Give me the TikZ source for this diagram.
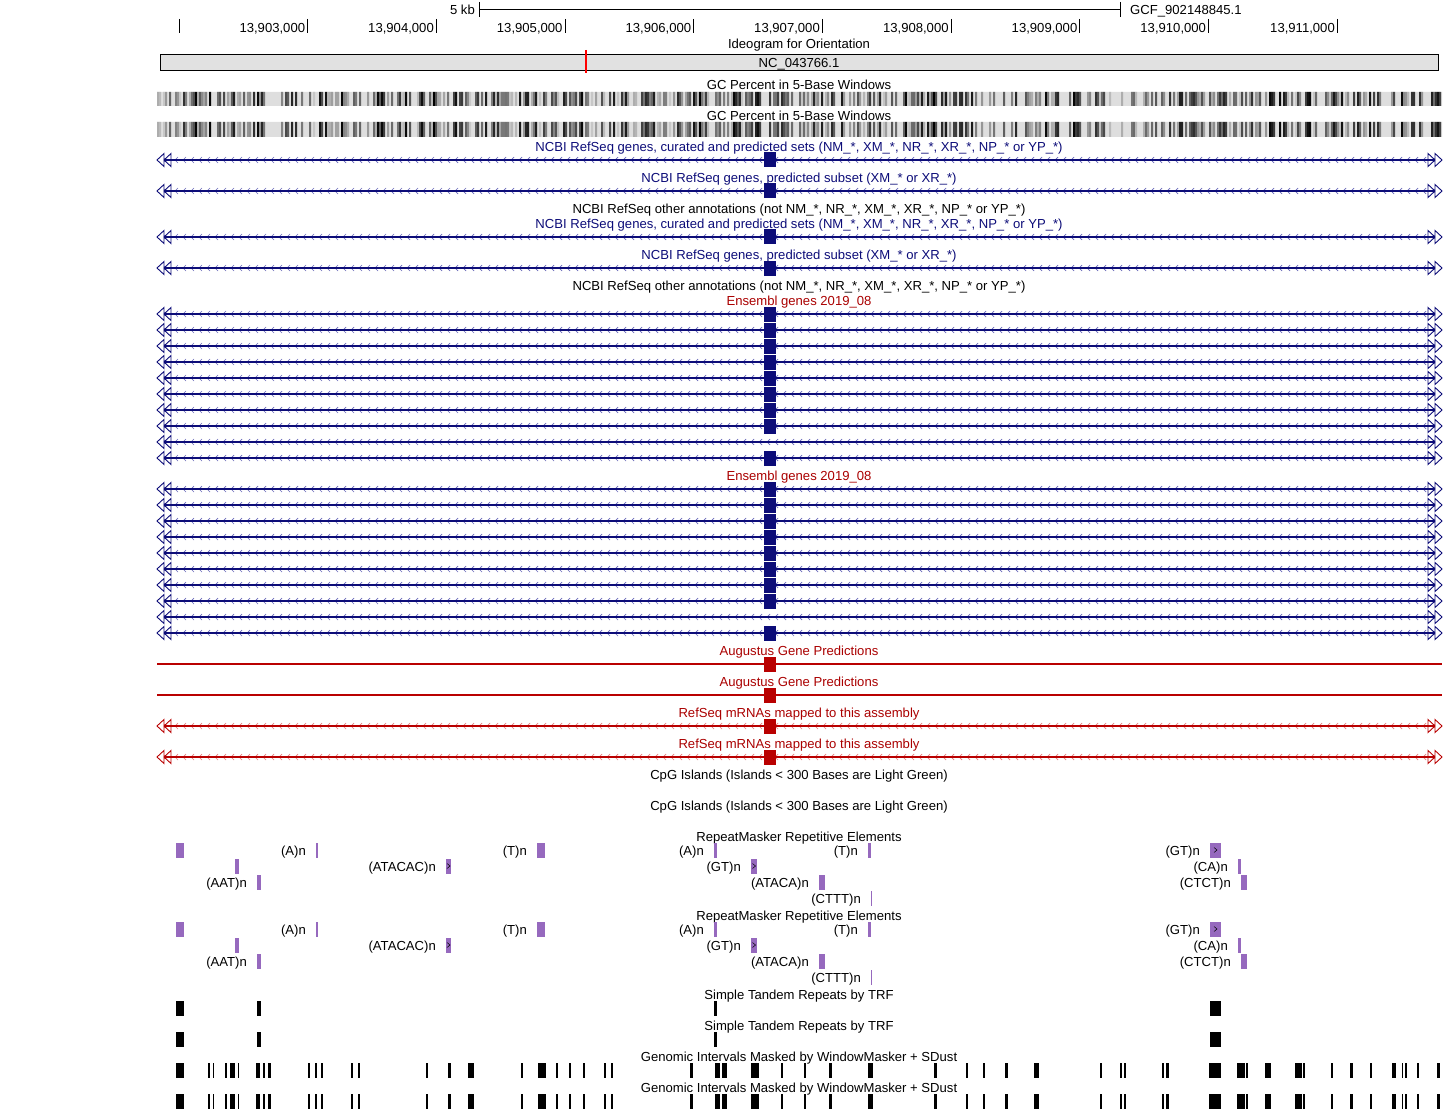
\documentclass[tikz,border=0pt]{standalone}
\usepackage{fontspec}
\setmainfont{Liberation Sans}
\definecolor{linenavy}{RGB}{12,12,120}
\definecolor{chevnavy}{RGB}{105,105,185}
\definecolor{linered}{RGB}{185,0,0}
\definecolor{chevred}{RGB}{228,125,125}
\definecolor{labelred}{RGB}{170,0,0}
\definecolor{rmskpurple}{RGB}{150,105,190}
\definecolor{ideogray}{RGB}{225,225,225}
\definecolor{gcback}{RGB}{222,222,222}
\tikzset{
  lbl/.style={font=\fontsize{13.1}{15}\selectfont, inner sep=0pt, anchor=base, yshift=-0.8pt},
  trackline/.style={line width=1.3pt},
  chevron/.style={line width=0.7pt},
  endtri/.style={line width=0.9pt},
  glyph/.style={line width=0.5pt, black},
}

\begin{document}
\begin{tikzpicture}[x=1pt,y=-1pt]
    \useasboundingbox (0,0) rectangle (1443,1110);

    % Scale bar and assembly name
    \draw (479,2) -- (479,17) (479,9) -- (1120,9) (1120,2) -- (1120,17);
    \node[lbl, anchor=base east] (scalelbl) at (475,14) {5 kb};
    \node[lbl, anchor=base west] (asm) at (1130,14) {GCF\_902148845.1};

    % Base position ruler
    \draw (179.3,19) -- (179.3,33);
    \foreach \tx/\txt [count=\k] in {307.3/{13,903,000}, 436/{13,904,000}, 564.7/{13,905,000},
        693.4/{13,906,000}, 822/{13,907,000}, 950.8/{13,908,000}, 1079.5/{13,909,000},
        1208.2/{13,910,000}, 1337/{13,911,000}}{
        \draw (\tx,19) -- (\tx,33);
        \node[lbl, anchor=base east] (ruler\k) at (\tx-2,32) {\txt};
    }

    % Ideogram
    \node[lbl] (ideottl) at (799,47.5) {Ideogram for Orientation};
    \draw[fill=ideogray, line width=0.8pt] (160,54) rectangle (1438,70);
    \draw[red, line width=2.6pt] (586,50) -- (586,73);
    \node[lbl] (chrom) at (799,66.5) {NC\_043766.1};

    % GC percent strips (same data twice)
    \node[lbl] (gc1) at (799,88.5) {GC Percent in 5-Base Windows};
    \node[lbl] (gc2) at (799,119.5) {GC Percent in 5-Base Windows};
    \fill[gcback] (157,92) rectangle (1442,106) (157,122) rectangle (1442,137);
    \pgfmathsetseed{1707}
    \foreach \i in {0,...,641}{
        \pgfmathrandominteger{\gcr}{0}{99}
        \ifnum\gcr>38
            \pgfmathtruncatemacro{\gcv}{22+(\gcr-39)*78/60}
            \fill[black!\gcv] (157+2*\i,92) rectangle ++(2,14) (157+2*\i,122) rectangle ++(2,15);
        \fi
    }

    % Track titles
    \foreach \ty/\tcol/\ttxt [count=\k] in {
        150.5/linenavy/{NCBI RefSeq genes, curated and predicted sets (NM\_*, XM\_*, NR\_*, XR\_*, NP\_* or YP\_*)},
        181.5/linenavy/{NCBI RefSeq genes, predicted subset (XM\_* or XR\_*)},
        212.5/black/{NCBI RefSeq other annotations (not NM\_*, NR\_*, XM\_*, XR\_*, NP\_* or YP\_*)},
        227.5/linenavy/{NCBI RefSeq genes, curated and predicted sets (NM\_*, XM\_*, NR\_*, XR\_*, NP\_* or YP\_*)},
        258.5/linenavy/{NCBI RefSeq genes, predicted subset (XM\_* or XR\_*)},
        289.5/black/{NCBI RefSeq other annotations (not NM\_*, NR\_*, XM\_*, XR\_*, NP\_* or YP\_*)},
        304.5/labelred/{Ensembl genes 2019\_08},
        479.5/labelred/{Ensembl genes 2019\_08},
        654.5/labelred/{Augustus Gene Predictions},
        685.5/labelred/{Augustus Gene Predictions},
        716.5/labelred/{RefSeq mRNAs mapped to this assembly},
        747.5/labelred/{RefSeq mRNAs mapped to this assembly},
        778.5/black/{CpG Islands (Islands < 300 Bases are Light Green)},
        809.5/black/{CpG Islands (Islands < 300 Bases are Light Green)}}{
        \node[lbl, text=\tcol] (title\k) at (799,\ty) {\ttxt};
    }

    % Gene models: y / exon shown / colour set
    \foreach \gy/\ex/\tc in {160/1/navy, 191/1/navy, 237/1/navy, 268/1/navy,
        314/1/navy, 330/1/navy, 346/1/navy, 362/1/navy, 378/1/navy, 394/1/navy,
        410/1/navy, 426/1/navy, 442/0/navy, 458/1/navy,
        489/1/navy, 505/1/navy, 521/1/navy, 537/1/navy, 553/1/navy, 569/1/navy,
        585/1/navy, 601/1/navy, 617/0/navy, 633/1/navy,
        726/1/red, 757/1/red}{
        \draw[chevron, chev\tc] \foreach \cx in {175,183,...,1423}{(\cx+3,\gy-3) -- (\cx,\gy) -- (\cx+3,\gy+3)};
        \draw[trackline, line\tc] (164,\gy) -- (1435,\gy);
        \draw[endtri, line\tc] (164,\gy-6.5) -- (157,\gy) -- (164,\gy+6.5) -- cycle
            (171,\gy-6.5) -- (164,\gy) -- (171,\gy+6.5) -- cycle;
        \draw[endtri, line\tc] (1435,\gy-6.5) -- (1442,\gy) -- (1435,\gy+6.5) -- cycle
            (1428,\gy-6.5) -- (1435,\gy) -- (1428,\gy+6.5) -- cycle;
        \ifnum\ex=1
            \fill[line\tc] (764,\gy-7.5) rectangle (776,\gy+7.5);
        \fi
    }

    % Augustus predictions
    \foreach \gy in {664,695}{
        \draw[trackline, linered] (157,\gy) -- (1442,\gy);
        \fill[linered] (764,\gy-7.5) rectangle (776,\gy+7.5);
    }

    % RepeatMasker (two copies)
    \foreach \dy [count=\b] in {0,79}{
        \node[lbl] (rmsk\b) at (799,840.5+\dy) {RepeatMasker Repetitive Elements};
        \foreach \ry/\xa/\xb/\dir in {850/176/184/0, 850/316/318/0, 850/537/545/0, 850/714/717/0,
            850/868/871/0, 850/1210/1221/1, 866/235/239/0, 866/446/451/1, 866/751/757/1,
            866/1238/1241/0, 882/257/261/0, 882/819/825/0, 882/1241/1247/0, 898/871/872/0}{
            \fill[rmskpurple] (\xa,\ry+\dy-7.5) rectangle (\xb,\ry+\dy+7.5);
            \ifnum\dir=1
                \draw[glyph] ({(\xa+\xb)/2-1.5},\ry+\dy-2.5) -- ({(\xa+\xb)/2+1.5},\ry+\dy) -- ({(\xa+\xb)/2-1.5},\ry+\dy+2.5);
            \fi
        }
        \foreach \ry/\xa/\txt [count=\k] in {850/316/{(A)n}, 850/537/{(T)n}, 850/714/{(A)n},
            850/868/{(T)n}, 850/1210/{(GT)n}, 866/446/{(ATACAC)n}, 866/751/{(GT)n},
            866/1238/{(CA)n}, 882/257/{(AAT)n}, 882/819/{(ATACA)n}, 882/1241/{(CTCT)n},
            898/871/{(CTTT)n}}{
            \node[lbl, anchor=base east] (rep\b-\k) at (\xa-10,\ry+\dy+4.5) {\txt};
        }
    }

    % Simple tandem repeats
    \foreach \dy [count=\b] in {0,31}{
        \node[lbl] (trf\b) at (799,998.5+\dy) {Simple Tandem Repeats by TRF};
        \foreach \xa/\xb in {176/184, 257/261, 714/717, 1210/1221}{
            \fill (\xa,1001+\dy) rectangle (\xb,1016+\dy);
        }
    }

    % WindowMasker + SDust intervals
    \foreach \dy [count=\b] in {0,31}{
        \node[lbl] (wm\b) at (799,1060.5+\dy) {Genomic Intervals Masked by WindowMasker + SDust};
        \foreach \xa/\xb in {176/184, 208/210, 212.5/214, 225/227, 230/235, 237.5/239,
            256/260, 262.5/265, 268/271, 308/310, 315/317, 321/323, 351/353, 358/360,
            426/428, 447.5/451, 467.5/474, 521/523, 537.5/546, 556/558, 569/571, 583/585,
            604/606, 611/613, 690/692.5, 715/720, 721.7/727, 751/759, 781/782.5,
            804/806, 829/832, 868/873, 934/937, 966/968, 983/985, 1005/1008, 1034/1039,
            1100/1102, 1120/1122, 1124/1126, 1161.7/1164.3, 1166/1169, 1209/1220.7,
            1237/1245, 1245.7/1247.7, 1265/1270.7, 1295/1301.7, 1302.7/1305, 1331/1333.3,
            1350/1352.7, 1370/1372.3, 1392/1395.7, 1401.7/1403.3, 1405/1407.3,
            1416.7/1419.3, 1437.3/1440}{
            \fill (\xa,1063+\dy) rectangle (\xb,1078+\dy);
        }
    }
\end{tikzpicture}
\end{document}
